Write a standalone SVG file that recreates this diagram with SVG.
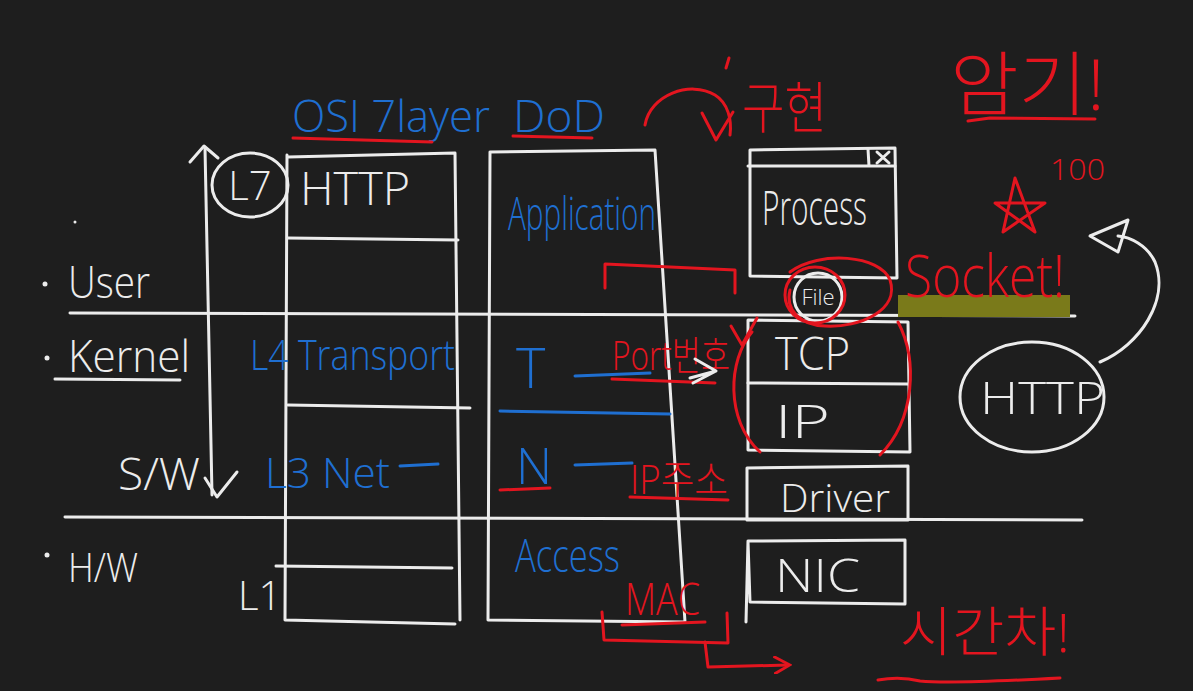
<svg xmlns="http://www.w3.org/2000/svg" width="1193" height="691" viewBox="0 0 1193 691">
<style>
.w{fill:none;stroke:#ececec;stroke-width:3;stroke-linecap:round;stroke-linejoin:round}
.r{fill:none;stroke:#e3151f;stroke-width:3;stroke-linecap:round;stroke-linejoin:round}
.b{fill:none;stroke:#1f6fd1;stroke-width:3;stroke-linecap:round}
text{font-family:"Open Sans","Noto Sans CJK KR",sans-serif;font-weight:300}
.tw{fill:#ececec}.tr{fill:#e3151f}.tb{fill:#1f6fd1}
</style>
<defs>
<marker id="ah" viewBox="0 0 10 10" refX="8" refY="5" markerWidth="6" markerHeight="6" orient="auto"><path d="M0,0 L9,5 L0,10" fill="none" stroke="#e3151f" stroke-width="1.6"/></marker>
</defs>
<rect width="1193" height="691" fill="#1e1e1e"/>

<g id="dividers">
<path class="w" d="M70,313 L1075,316"/>
<path class="w" d="M65,517 L1082,520"/>
<circle cx="45" cy="284" r="2.5" fill="#ececec"/>
<circle cx="47" cy="358" r="2.5" fill="#ececec"/>
<circle cx="47" cy="555" r="2.5" fill="#ececec"/>
<circle cx="75" cy="222" r="1.5" fill="#ececec"/>
<text class="tw" x="68" y="298" font-size="44" textLength="82" lengthAdjust="spacingAndGlyphs">User</text>
<text class="tw" x="68" y="372" font-size="44" textLength="122" lengthAdjust="spacingAndGlyphs">Kernel</text>
<path class="w" d="M55,379 L180,380"/>
<text class="tw" x="118" y="490" font-size="44" textLength="82" lengthAdjust="spacingAndGlyphs">S/W</text>
<text class="tw" x="68" y="582" font-size="40" textLength="70" lengthAdjust="spacingAndGlyphs">H/W</text>
</g>

<g id="sw-arrow">
<path class="w" d="M205,148 L212,495"/>
<path class="w" d="M190,162 L204,146 L218,158"/>
<path class="w" d="M205,478 L217,497 L237,472"/>
</g>

<g id="osi">
<text class="tb" x="292" y="132" font-size="44" textLength="198" lengthAdjust="spacingAndGlyphs">OSI 7layer</text>
<path class="r" d="M293,138 L432,142"/>
<path class="w" d="M288,157 L455,153 L460,620 M287,155 L285,620 L455,624"/>
<path class="w" d="M288,238 L458,240"/>
<path class="w" d="M288,405 L470,408"/>
<path class="w" d="M276,566 L452,568"/>
<ellipse class="w" cx="250" cy="185" rx="38" ry="32"/>
<text class="tw" x="250" y="200" font-size="40" text-anchor="middle">L7</text>
<text class="tw" x="300" y="205" font-size="46" textLength="110" lengthAdjust="spacingAndGlyphs">HTTP</text>
<text class="tb" x="250" y="370" font-size="42" textLength="205" lengthAdjust="spacingAndGlyphs">L4 Transport</text>
<text class="tb" x="265" y="488" font-size="42" textLength="125" lengthAdjust="spacingAndGlyphs">L3 Net</text>
<path class="b" d="M400,466 L438,464"/>
<text class="tw" x="238" y="610" font-size="40">L1</text>
</g>

<g id="dod">
<text class="tb" x="513" y="132" font-size="44" textLength="92" lengthAdjust="spacingAndGlyphs">DoD</text>
<path class="r" d="M513,136 L592,138"/>
<path class="w" d="M490,152 L655,150 L685,622 M490,152 L488,620 L685,622"/>
<text class="tb" x="508" y="230" font-size="46" textLength="148" lengthAdjust="spacingAndGlyphs">Application</text>
<text class="tb" x="516" y="388" font-size="56">T</text>
<path class="b" d="M575,376 L650,373"/>
<path class="b" d="M500,411 L670,414"/>
<text class="tb" x="516" y="484" font-size="50">N</text>
<path class="r" d="M500,490 L550,488"/>
<path class="b" d="M575,465 L632,463"/>
<text class="tb" x="515" y="572" font-size="46" textLength="105" lengthAdjust="spacingAndGlyphs">Access</text>
</g>

<g id="process">
<path class="w" d="M750,150 L895,148 L897,278 L750,276 Z"/>
<path class="w" d="M748,166 L895,166 M868,149 L869,166"/>
<path class="w" d="M877,152 L889,163 M889,152 L877,163"/>
<text class="tw" x="762" y="225" font-size="48" textLength="105" lengthAdjust="spacingAndGlyphs">Process</text>
</g>

<g id="file">
<circle class="w" cx="818" cy="297" r="24"/>
<text class="tw" x="818" y="305" font-size="22" text-anchor="middle">File</text>
</g>

<g id="tcpip">
<path class="w" d="M748,320 L908,322 L910,452 L748,450 Z"/>
<path class="w" d="M748,383 L908,384"/>
<text class="tw" x="775" y="370" font-size="46" textLength="75" lengthAdjust="spacingAndGlyphs">TCP</text>
<text class="tw" x="775" y="438" font-size="46" textLength="55" lengthAdjust="spacingAndGlyphs">IP</text>
</g>

<g id="driver">
<path class="w" d="M747,468 L908,466 L908,520 L747,520 Z"/>
<text class="tw" x="780" y="512" font-size="38" textLength="110" lengthAdjust="spacingAndGlyphs">Driver</text>
</g>

<g id="nic">
<path class="w" d="M748,541 L905,540 L905,604 L750,602 Z M748,541 L746,622"/>
<text class="tw" x="775" y="592" font-size="46" textLength="85" lengthAdjust="spacingAndGlyphs">NIC</text>
</g>

<g id="http-circle">
<ellipse class="w" cx="1032" cy="397" rx="72" ry="55"/>
<text class="tw" x="980" y="414" font-size="44" textLength="125" lengthAdjust="spacingAndGlyphs">HTTP</text>
</g>

<g id="socket">
<rect x="898" y="295" width="172" height="22" fill="#7a7a1a"/>
<text class="tr" x="905" y="297" font-size="58" textLength="160" lengthAdjust="spacingAndGlyphs">Socket!</text>
</g>

<g id="annotations">
<text class="tr" x="612" y="370" font-size="40" textLength="118" lengthAdjust="spacingAndGlyphs">Port번호</text>
<path class="r" d="M612,379 L715,383"/>
<text class="tr" x="630" y="494" font-size="40" textLength="98" lengthAdjust="spacingAndGlyphs">IP주소</text>
<path class="r" d="M630,497 L728,500"/>
<text class="tr" x="625" y="615" font-size="44" textLength="75" lengthAdjust="spacingAndGlyphs">MAC</text>
<path class="r" d="M622,625 L705,622"/>
<text class="tr" x="742" y="128" font-size="56" textLength="85" lengthAdjust="spacingAndGlyphs">구현</text>
<path class="r" d="M729,58 L726,68"/>
<text class="tr" x="950" y="110" font-size="70" textLength="155" lengthAdjust="spacingAndGlyphs">암기!</text>
<path class="r" d="M968,121 L990,118 L1095,119"/>
<path class="r" d="M1015,178 L1003,232 L1045,203 L995,203 L1035,232 Z"/>
<text class="tr" x="1050" y="180" font-size="30" textLength="55" lengthAdjust="spacingAndGlyphs">100</text>
<text class="tr" x="900" y="652" font-size="54" textLength="170" lengthAdjust="spacingAndGlyphs">시간차!</text>
<path class="r" d="M878,680 Q900,676 920,681 Q950,684 1060,678"/>
</g>

<g id="connectors">
<path class="r" d="M645,125 C650,95 690,80 715,95 C728,103 732,120 730,135"/>
<path class="r" d="M702,113 L716,140 L733,112"/>
<path class="r" d="M605,288 L605,264 L735,270 L735,293"/>
<path class="w" d="M695,359 L716,371 L693,383 M690,378 L716,371"/>
<path class="r" d="M731,326 L742,345 L757,318"/>
<path class="r" d="M752,332 C728,360 725,420 760,452"/>
<path class="r" d="M898,322 C918,360 915,420 880,455"/>
<ellipse class="r" cx="815" cy="295" rx="30" ry="28"/>
<path class="r" d="M790,272 C820,250 880,255 890,280 C900,310 860,328 825,326 C800,325 785,310 790,290"/>
<path class="r" d="M602,612 L604,640 L728,643 L727,613"/>
<path class="r" d="M705,642 L708,667 L788,665" marker-end="url(#ah)"/>
<path class="w" d="M1100,362 C1140,345 1170,300 1155,262 C1147,245 1130,237 1118,236"/>
<path class="w" d="M1090,236 L1128,220 L1118,252 Z"/>
</g>
</svg>
